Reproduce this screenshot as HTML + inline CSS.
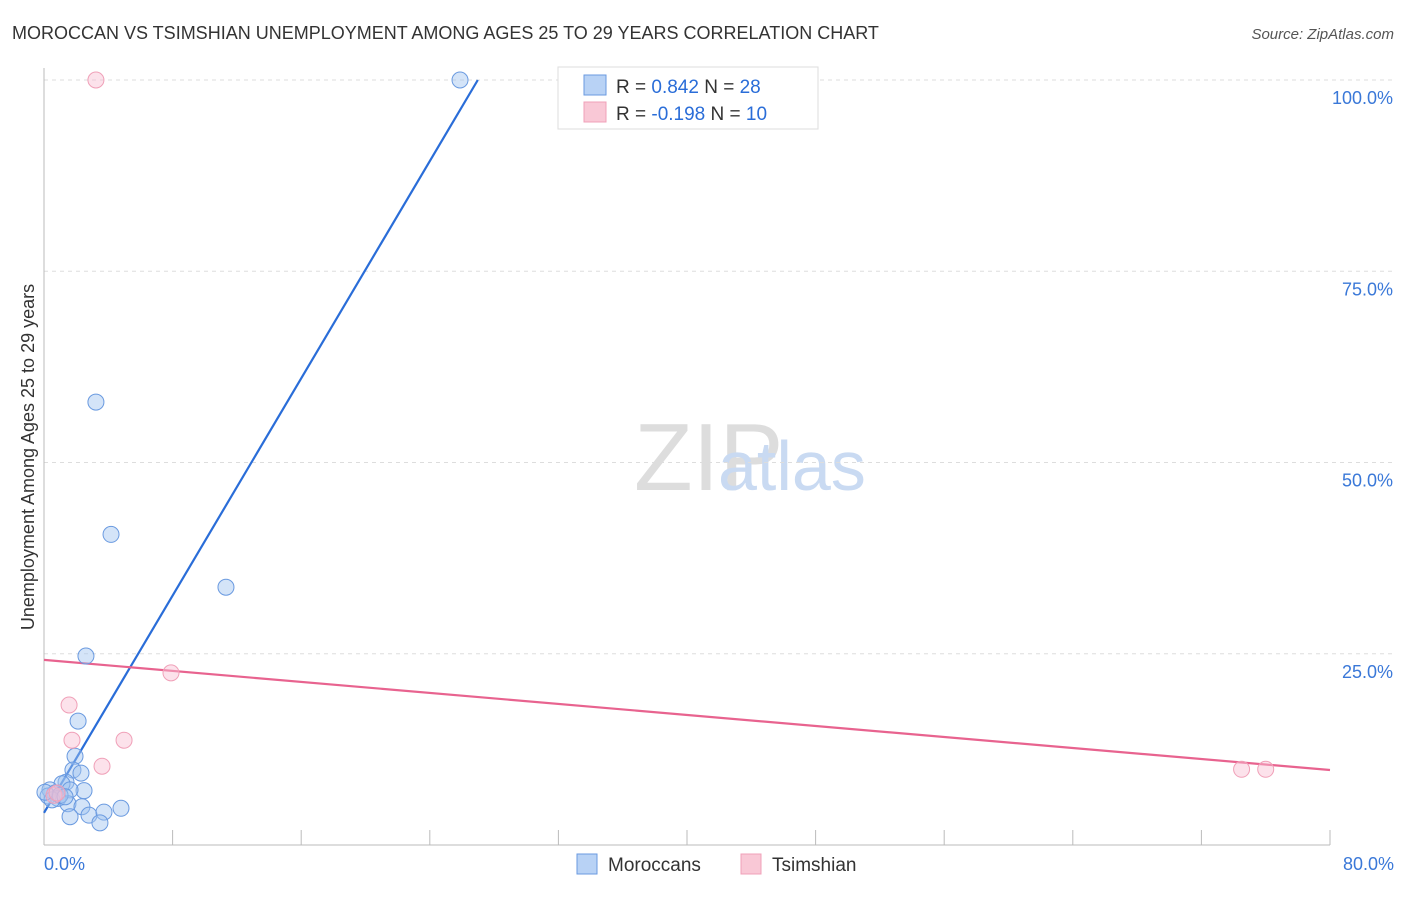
<!DOCTYPE html>
<html><head><meta charset="utf-8"><style>
body{margin:0;background:#fff;font-family:"Liberation Sans",sans-serif;}
svg text{font-family:"Liberation Sans",sans-serif;}
</style></head><body>
<svg width="1406" height="892" id="chart">
<text x="12" y="39" font-size="18" fill="#333">MOROCCAN VS TSIMSHIAN UNEMPLOYMENT AMONG AGES 25 TO 29 YEARS CORRELATION CHART</text>
<text x="1394" y="39" font-size="15" fill="#555" font-style="italic" text-anchor="end">Source: ZipAtlas.com</text>
<text x="634" y="490" font-size="96" fill="#ddd" font-family="Liberation Serif">ZIP</text>
<text x="718" y="490" font-size="70" fill="#c9daf2">atlas</text>
<text transform="translate(34,457) rotate(-90)" font-size="18" fill="#333" text-anchor="middle">Unemployment Among Ages 25 to 29 years</text>
<g id="grid"></g><g id="trend"></g><g id="pts"></g>
<g>
<rect x="558" y="67" width="260" height="62" fill="#fff" stroke="#ddd"/>
<rect x="584" y="75" width="22" height="20" fill="#b8d2f5" stroke="#6a9ae0"/>
<text x="616" y="93" font-size="19" fill="#333">R = <tspan fill="#2a6dd8"> 0.842</tspan>   N = <tspan fill="#2a6dd8">28</tspan></text>
<rect x="584" y="102" width="22" height="20" fill="#f9c8d6" stroke="#f0a0b8"/>
<text x="616" y="120" font-size="19" fill="#333">R = <tspan fill="#2a6dd8">-0.198</tspan>   N = <tspan fill="#2a6dd8">10</tspan></text>
</g>
<g>
<rect x="577" y="854" width="20" height="20" fill="#b8d2f5" stroke="#6a9ae0"/>
<text x="608" y="871" font-size="19" fill="#333">Moroccans</text>
<rect x="741" y="854" width="20" height="20" fill="#f9c8d6" stroke="#f0a0b8"/>
<text x="772" y="871" font-size="19" fill="#333">Tsimshian</text>
</g>
</svg>
<script>
const blueX=[25.88,3.23,4.17,11.32,2.61,2.12,1.93,1.80,2.30,2.49,1.37,1.12,1.62,0.37,0.68,0.87,0.25,0.5,1.49,2.36,1.62,2.8,3.73,4.79,3.48,1.0,0.06,1.31];
const blueY=[100,57.9,40.6,33.7,24.7,16.2,11.6,9.8,9.4,7.1,8.2,8.0,7.2,7.2,6.8,6.1,6.4,5.9,5.4,5.0,3.7,3.9,4.3,4.8,2.9,6.5,6.9,6.3];
const pinkX=[3.23,1.56,1.74,4.98,3.61,7.9,74.5,76.0,0.62,0.81];
const pinkY=[100,18.3,13.7,13.7,10.3,22.5,9.9,9.9,6.5,6.8];
const blueTrend=[4.2,3.55];
const pinkTrend=[24.2,-0.18];
const yTicks=[25,50,75,100];
const yTickLabels=["25.0%","50.0%","75.0%","100.0%"];
const xLabels=["0.0%","80.0%"];
const NS="http://www.w3.org/2000/svg";
const sx=v=>44+v/80*1286, sy=v=>845-v/100*765;
function mk(tag,attrs,parent){const e=document.createElementNS(NS,tag);for(const k in attrs)e.setAttribute(k,attrs[k]);document.getElementById(parent).appendChild(e);return e;}
yTicks.forEach((t,i)=>{
 const l=mk('line',{x1:44,x2:1394,y1:sy(t),y2:sy(t),stroke:'#ddd','stroke-dasharray':'4,4'},'grid');
 
 
 const tx=mk('text',{x:1393,y:sy(t)+24,'font-size':18,fill:'#3a78d8','text-anchor':'end'},'grid');
 tx.textContent=yTickLabels[i];
 
 
});
let ax=mk('line',{x1:44,x2:44,y1:68,y2:845,stroke:'#bbb'},'grid');


ax=mk('line',{x1:44,x2:1330,y1:845,y2:845,stroke:'#bbb'},'grid');


for(let i=1;i<=10;i++){const tk=mk('line',{x1:sx(i*8),x2:sx(i*8),y1:830,y2:845,stroke:'#bbb'},'grid');
 
 }
[[0,'start',44],[80,'end',1394]].forEach((d,i)=>{const t=mk('text',{x:d[2],y:870,'font-size':18,fill:'#3a78d8','text-anchor':d[1]},'grid');t.textContent=xLabels[i];
 
 });
// trend lines
const bx2=(100-blueTrend[0])/blueTrend[1];
let tl=mk('line',{x1:sx(0),y1:sy(blueTrend[0]),x2:sx(bx2),y2:sy(100),stroke:'#2a6dd8','stroke-width':2.2},'trend');


tl=mk('line',{x1:sx(0),y1:sy(pinkTrend[0]),x2:sx(80),y2:sy(pinkTrend[0]+pinkTrend[1]*80),stroke:'#e8638f','stroke-width':2.2},'trend');


blueX.forEach((x,i)=>{const c=mk('circle',{cx:sx(x),cy:sy(blueY[i]),r:8,fill:'rgba(160,196,240,0.45)',stroke:'#6a9ae0','stroke-width':1},'pts');
 
 });
pinkX.forEach((x,i)=>{const c=mk('circle',{cx:sx(x),cy:sy(pinkY[i]),r:8,fill:'rgba(248,190,210,0.45)',stroke:'#f0a0b8','stroke-width':1},'pts');
 
 });
</script>
</body></html>
